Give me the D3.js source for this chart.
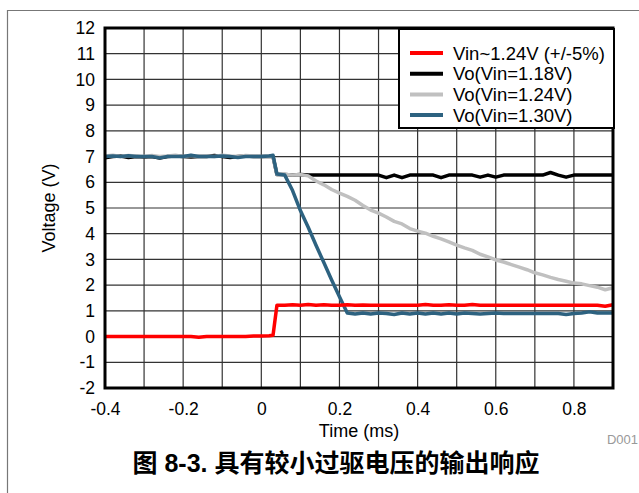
<!DOCTYPE html>
<html>
<head>
<meta charset="utf-8">
<script src="https://cdn.jsdelivr.net/npm/d3@7"></script>
<style>
  body { margin: 0; background: #fff; }
  svg { display: block; font-family: "Liberation Sans", Arial, sans-serif; }
</style>
</head>
<body>
<svg id="chart" width="639" height="493"></svg>
<script>
// time axis (ms)
const time = [
  -0.40, -0.38, -0.36, -0.34, -0.32, -0.30, -0.28, -0.26, -0.24, -0.22,
  -0.20, -0.18, -0.16, -0.14, -0.12, -0.10, -0.08, -0.06, -0.04, -0.02,
  0.00, 0.02, 0.03,
  0.04, 0.06, 0.08, 0.10, 0.12, 0.14, 0.16, 0.18, 0.20, 0.22,
  0.24, 0.26, 0.28, 0.30, 0.32, 0.34, 0.36, 0.38, 0.40, 0.42,
  0.44, 0.46, 0.48, 0.50, 0.52, 0.54, 0.56, 0.58, 0.60, 0.62,
  0.64, 0.66, 0.68, 0.70, 0.72, 0.74, 0.76, 0.78, 0.80, 0.82,
  0.84, 0.86, 0.88, 0.90
];

const vin = [
  0, 0, 0, 0, 0, 0, 0, 0, 0, 0,
  0, 0, -0.03, 0, 0, 0, 0, 0, 0, 0.02,
  0.02, 0.03, 0.05,
  1.22, 1.22, 1.24, 1.22, 1.25, 1.22, 1.24, 1.22, 1.22, 1.24,
  1.22, 1.23, 1.22, 1.22, 1.22, 1.22, 1.22, 1.22, 1.22, 1.25,
  1.22, 1.22, 1.24, 1.22, 1.22, 1.25, 1.22, 1.22, 1.22, 1.22,
  1.22, 1.22, 1.22, 1.22, 1.22, 1.22, 1.22, 1.22, 1.22, 1.22,
  1.22, 1.22, 1.18, 1.24
];

const vo118 = [
  6.95, 7.0, 7.02, 6.96, 7.0, 6.98, 7.0, 6.94, 7.0, 7.02,
  7.0, 6.98, 7.0, 7.0, 7.04, 7.0, 6.96, 7.0, 7.02, 7.0,
  7.0, 7.0, 7.0,
  6.3, 6.3, 6.28, 6.3, 6.28, 6.28, 6.28, 6.28, 6.28, 6.28,
  6.28, 6.28, 6.28, 6.28, 6.18, 6.28, 6.18, 6.28, 6.28, 6.28,
  6.28, 6.18, 6.28, 6.28, 6.28, 6.28, 6.2, 6.28, 6.2, 6.28,
  6.28, 6.28, 6.28, 6.28, 6.28, 6.38, 6.28, 6.2, 6.28, 6.28,
  6.28, 6.28, 6.28, 6.28
];

const vo124 = [
  7.02, 7.05, 7.0, 7.04, 7.02, 7.0, 7.04, 7.0, 7.02, 7.05,
  7.0, 7.04, 7.0, 7.02, 7.0, 7.05, 7.02, 7.0, 7.04, 7.02,
  7.0, 7.0, 7.0,
  6.3, 6.3, 6.28, 6.3, 6.25, 6.05, 5.9, 5.72, 5.58, 5.45,
  5.3, 5.1, 4.92, 4.8, 4.65, 4.48, 4.38, 4.2, 4.1, 4.02,
  3.9, 3.8, 3.68, 3.56, 3.45, 3.35, 3.2, 3.1, 2.98, 2.9,
  2.8, 2.7, 2.6, 2.48, 2.4, 2.3, 2.22, 2.15, 2.08, 2.05,
  1.98, 1.92, 1.82, 1.9
];

const vo130 = [
  7.0, 7.02, 7.0, 7.03, 7.0, 7.0, 7.0, 6.95, 7.0, 7.0,
  7.0, 7.05, 7.0, 7.0, 7.0, 7.02, 7.0, 6.96, 7.0, 7.0,
  7.0, 7.02, 7.05,
  6.32, 6.28, 5.68, 4.9, 4.25, 3.55, 2.88, 2.2, 1.55, 0.92,
  0.88, 0.92, 0.88, 0.92, 0.9, 0.86, 0.92, 0.88, 0.92, 0.88,
  0.92, 0.88, 0.92, 0.88, 0.92, 0.9, 0.88, 0.9, 0.92, 0.9,
  0.9, 0.9, 0.9, 0.9, 0.9, 0.9, 0.9, 0.86, 0.9, 0.92,
  0.96, 0.92, 0.92, 0.92
];

const seriesNames = ['Vin~1.24V (+/-5%)', 'Vo(Vin=1.18V)', 'Vo(Vin=1.24V)', 'Vo(Vin=1.30V)'];
const seriesColors = ['#ff0000', '#000000', '#c0c0c0', '#2d6280'];
const xGridTicks = [-0.4, -0.3, -0.2, -0.1, 0, 0.1, 0.2, 0.3, 0.4, 0.5, 0.6, 0.7, 0.8, 0.9];
const xLabelTicks = [-0.4, -0.2, 0, 0.2, 0.4, 0.6, 0.8];
const yTicks = d3.range(-2, 13, 1);

const svg = d3.select('#chart');
const margin = { left: 105, right: 613, top: 28, bottom: 388 };

const xScale = d3.scaleLinear().domain([-0.4, 0.9]).range([margin.left, margin.right]);
const yScale = d3.scaleLinear().domain([-2, 12]).range([margin.bottom, margin.top]);

// outer frame (only left and top edges visible)
svg.append('path')
    .attr('d', 'M7.5,493 V10.5 H639')
    .attr('fill', 'none')
    .attr('stroke', '#777')
    .attr('stroke-width', 1.2);

// grid
const grid = svg.append('g').attr('class', 'grid');
grid.selectAll('.vgrid')
    .data(xGridTicks)
    .join('line')
    .attr('x1', d => xScale(d)).attr('x2', d => xScale(d))
    .attr('y1', margin.top).attr('y2', margin.bottom)
    .attr('stroke', '#333').attr('stroke-width', 1.2);
grid.selectAll('.hgrid')
    .data(yTicks)
    .join('line')
    .attr('x1', margin.left).attr('x2', margin.right)
    .attr('y1', d => yScale(d)).attr('y2', d => yScale(d))
    .attr('stroke', '#333').attr('stroke-width', 1.2);

// plain hyphen for negatives, like the original
const fmtX = d => d === 0 ? '0' : d3.format('.1f')(d).replace('\u2212', '-');
const fmtY = d => String(d);

const xAxis = svg.append('g')
    .attr('transform', `translate(0, ${margin.bottom})`)
    .call(d3.axisBottom(xScale).tickValues(xLabelTicks).tickSize(0).tickPadding(15).tickFormat(fmtX));
xAxis.select('.domain').remove();
xAxis.selectAll('text').attr('font-size', 17.5).attr('font-family', 'Liberation Sans, Arial, sans-serif').attr('fill', '#000');

const yAxis = svg.append('g')
    .attr('transform', `translate(${margin.left}, 0)`)
    .call(d3.axisLeft(yScale).tickValues(yTicks).tickSize(0).tickPadding(10).tickFormat(fmtY));
yAxis.select('.domain').remove();
yAxis.selectAll('text').attr('font-size', 17.5).attr('font-family', 'Liberation Sans, Arial, sans-serif').attr('fill', '#000');

svg.append('text')
    .attr('x', (margin.left + margin.right) / 2)
    .attr('y', 437)
    .attr('text-anchor', 'middle')
    .attr('font-size', 18)
    .text('Time (ms)');

svg.append('text')
    .attr('transform', `translate(55, ${(margin.top + margin.bottom) / 2}) rotate(-90)`)
    .attr('text-anchor', 'middle')
    .attr('font-size', 18)
    .text('Voltage (V)');

// data lines
const line = d3.line()
    .x((d, i) => xScale(time[i]))
    .y(d => yScale(d));

const seriesValues = [vin, vo118, vo124, vo130];
const drawOrder = [1, 2, 3, 0];
const lines = svg.append('g').attr('class', 'lines');
drawOrder.forEach(k => {
    lines.append('path')
        .datum(seriesValues[k])
        .attr('d', line)
        .attr('fill', 'none')
        .attr('stroke', seriesColors[k])
        .attr('stroke-width', 3.5)
        .attr('stroke-linejoin', 'round');
});

// plot border
svg.append('rect')
    .attr('x', margin.left).attr('y', margin.top)
    .attr('width', margin.right - margin.left)
    .attr('height', margin.bottom - margin.top)
    .attr('fill', 'none')
    .attr('stroke', '#000')
    .attr('stroke-width', 3);

// legend
const legend = svg.append('g');
legend.append('rect')
    .attr('x', 399).attr('y', 29)
    .attr('width', 215).attr('height', 99)
    .attr('fill', '#fff')
    .attr('stroke', '#000')
    .attr('stroke-width', 2);
seriesNames.forEach((name, i) => {
    const cy = 53 + i * 20.7;
    legend.append('line')
        .attr('x1', 410).attr('x2', 443)
        .attr('y1', cy).attr('y2', cy)
        .attr('stroke', seriesColors[i])
        .attr('stroke-width', 4);
    legend.append('text')
        .attr('x', 453).attr('y', cy + 6.5)
        .attr('font-size', 18.5)
        .text(name);
});

svg.append('text')
    .attr('x', 638).attr('y', 444)
    .attr('text-anchor', 'end')
    .attr('font-size', 13)
    .attr('fill', '#999')
    .text('D001');

// caption
svg.append('text')
    .attr('x', 336).attr('y', 472)
    .attr('text-anchor', 'middle')
    .attr('font-size', 25)
    .attr('font-weight', 'bold')
    .attr('font-family', '"Liberation Sans", "Noto Sans CJK SC", sans-serif')
    .text('图 8-3. 具有较小过驱电压的输出响应');
</script>
</body>
</html>
